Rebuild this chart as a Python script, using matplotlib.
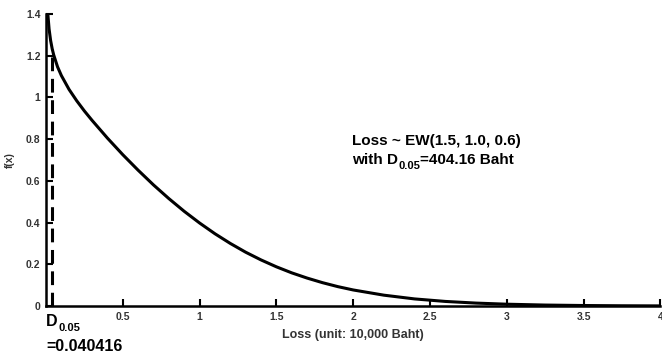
import numpy as np
import matplotlib.pyplot as plt

plt.rcParams['font.family'] = ['Liberation Sans', 'DejaVu Sans']

# density values
loss = [0.012, 0.02, 0.03, 0.040416, 0.05, 0.075, 0.1, 0.15, 0.2, 0.25, 0.3, 0.4,
        0.5, 0.6, 0.7, 0.8, 0.9, 1.0, 1.1, 1.2, 1.3, 1.4, 1.5, 1.6, 1.7, 1.8,
        1.9, 2.0, 2.2, 2.4, 2.6, 2.8, 3.0, 3.25, 3.5, 3.75, 4.0]
density = [1.399, 1.328, 1.273, 1.2325, 1.204, 1.147, 1.105, 1.0385, 0.984, 0.935,
           0.890, 0.805, 0.7255, 0.651, 0.5805, 0.515, 0.454, 0.398, 0.3465, 0.300,
           0.258, 0.221, 0.188, 0.159, 0.134, 0.112, 0.093, 0.077, 0.052, 0.034,
           0.022, 0.014, 0.0087, 0.0046, 0.0024, 0.0012, 0.0006]
d05 = 0.040416
d05_density = 1.2325
xticks = [0.5, 1, 1.5, 2, 2.5, 3, 3.5, 4]
xticklabels = ['0.5', '1', '1.5', '2', '2.5', '3', '3.5', '4']
yticks = [0, 0.2, 0.4, 0.6, 0.8, 1, 1.2, 1.4]
yticklabels = ['0', '0.2', '0.4', '0.6', '0.8', '1', '1.2', '1.4']


def sub_text(ax, x, y, before, sub, after, size, sub_size, transform):
    # main text, lowered subscript, then the rest on the main baseline
    t1 = ax.text(x, y, before, transform=transform, fontsize=size,
                 fontweight='bold', va='bottom', ha='left')
    t2 = ax.annotate(sub, xy=(1, 0), xycoords=t1, xytext=(0.3, 0.8),
                     textcoords='offset points', fontsize=sub_size,
                     fontweight='bold', va='center', ha='left')
    if after:
        ax.annotate(after, xy=(1, 0), xycoords=(t2, t1), xytext=(0.3, 0),
                    textcoords='offset points', fontsize=size,
                    fontweight='bold', va='bottom', ha='left')


fig = plt.figure(figsize=(6.62, 3.56), dpi=100)
ax = fig.add_axes([0.0695, 0.1404, 0.928, 0.8202])

ax.plot(loss, density, color='black', lw=2.2, solid_capstyle='butt')
ax.plot([d05, d05], [0, d05_density], color='black', lw=2.2,
        linestyle=(0, (4.5, 2.5)))

ax.set_xlim(0, 4)
ax.set_ylim(0, 1.4)
ax.set_xticks(xticks)
ax.set_xticklabels(xticklabels)
ax.set_yticks(yticks)
ax.set_yticklabels(yticklabels)
ax.tick_params(direction='in', length=5, width=1.5, labelsize=7.5,
               labelcolor='#333333', pad=4)
for lab in ax.get_xticklabels() + ax.get_yticklabels():
    lab.set_fontweight('bold')
for s in ['top', 'right']:
    ax.spines[s].set_visible(False)
for s in ['left', 'bottom']:
    ax.spines[s].set_linewidth(1.8)

ax.set_xlabel('Loss (unit: 10,000 Baht)', fontsize=9, fontweight='bold',
              color='#333333', labelpad=5)
ax.set_ylabel('f(x)', fontsize=7.5, fontweight='bold', color='#333333')
ax.yaxis.set_label_coords(-0.05, 0.5)

sub_text(ax, 0.0, -0.08, 'D', '0.05', '', 11.5, 8, ax.transAxes)
ax.text(0.0, -0.14, '=0.040416', transform=ax.transAxes,
        fontsize=11.5, fontweight='bold', va='center', ha='left')

ax.text(1.99, 0.79, 'Loss ~ EW(1.5, 1.0, 0.6)', fontsize=11, fontweight='bold',
        va='center', ha='left')
sub_text(ax, 1.99, 0.665, 'with D', '0.05', '=404.16 Baht', 11, 8, ax.transData)

fig.savefig('out.png', dpi=100)
